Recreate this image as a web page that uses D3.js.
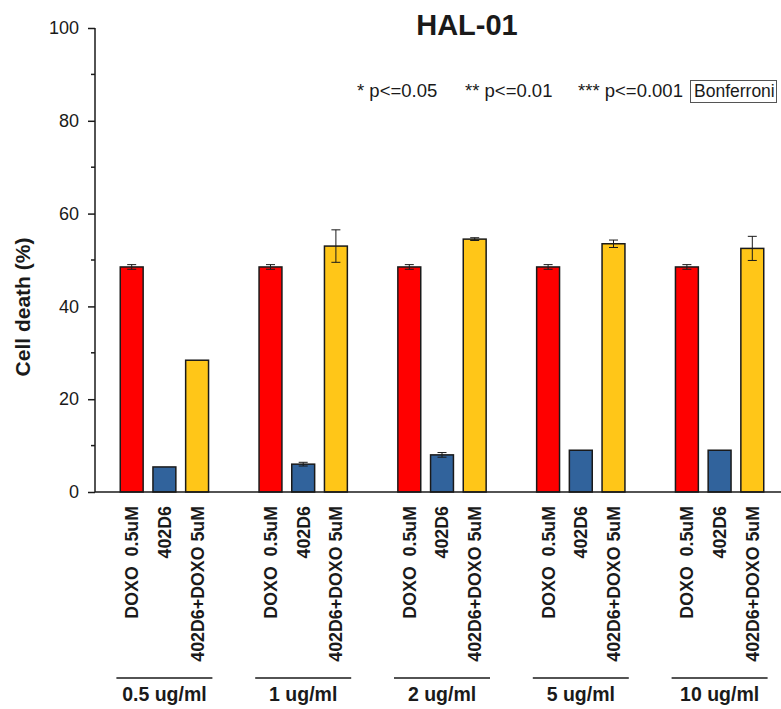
<!DOCTYPE html>
<html>
<head>
<meta charset="utf-8">
<script src="https://cdn.jsdelivr.net/npm/d3@7"></script>
<style>
  html, body { margin: 0; padding: 0; background: #fff; }
  svg { display: block; font-family: "Liberation Sans", Arial, sans-serif; }
</style>
</head>
<body>
<svg id="chart" width="781" height="709"></svg>
<script>
// Concentrations of 402D6 (one group each)
const groups = ["0.5 ug/ml", "1 ug/ml", "2 ug/ml", "5 ug/ml", "10 ug/ml"];
// Treatments within each group
const series = ["DOXO  0.5uM", "402D6", "402D6+DOXO 5uM"];
const seriesColors = ["#FF0000", "#31639C", "#FFC618"];

// Mean cell death (%) per group, one array per treatment
const doxoMean   = [48.5, 48.5, 48.5, 48.5, 48.5];
const ab402Mean  = [5.4, 6.0, 8.0, 9.0, 9.0];
const comboMean  = [28.4, 53.0, 54.5, 53.5, 52.5];
// Error (± SD)
const doxoErr    = [0.5, 0.5, 0.5, 0.5, 0.5];
const ab402Err   = [0, 0.4, 0.5, 0, 0];
const comboErr   = [0, 3.5, 0.3, 0.8, 2.6];

const yMajorTicks = [0, 20, 40, 60, 80, 100];
const yMinorTicks = [10, 30, 50, 70, 90];
const sigLegend = ["* p<=0.05", "** p<=0.01", "*** p<=0.001"];

const means = [doxoMean, ab402Mean, comboMean];
const errs = [doxoErr, ab402Err, comboErr];

const svg = d3.select("#chart");
const ink = "#1a1a1a";

const y = d3.scaleLinear().domain([0, 100]).range([492, 28]);
const x0 = d3.scaleBand().domain(groups).range([95, 789]).padding(0);
const x1 = d3.scaleBand().domain(series).range([-49.05, 49.05])
  .paddingInner(0.3).paddingOuter(0.15);

// Flatten into bar records
const bars = [];
groups.forEach((g, gi) => {
  series.forEach((s, si) => {
    bars.push({ group: g, series: s, si, value: means[si][gi], err: errs[si][gi] });
  });
});
const cx = d => x0(d.group) + x0.bandwidth() / 2 + x1(d.series) + x1.bandwidth() / 2;

// Bars
svg.append("g").selectAll("rect").data(bars).join("rect")
  .attr("x", d => x0(d.group) + x0.bandwidth() / 2 + x1(d.series))
  .attr("y", d => y(d.value))
  .attr("width", x1.bandwidth())
  .attr("height", d => y(0) - y(d.value))
  .attr("fill", d => seriesColors[d.si])
  .attr("stroke", ink)
  .attr("stroke-width", 1.5);

// Error bars
const eb = svg.append("g").attr("stroke", ink).attr("stroke-width", 1)
  .selectAll("g").data(bars.filter(d => d.err > 0)).join("g");
eb.append("line")
  .attr("x1", cx).attr("x2", cx)
  .attr("y1", d => y(d.value + d.err)).attr("y2", d => y(d.value - d.err));
eb.append("line")
  .attr("x1", d => cx(d) - 4.5).attr("x2", d => cx(d) + 4.5)
  .attr("y1", d => y(d.value + d.err)).attr("y2", d => y(d.value + d.err));
eb.append("line")
  .attr("x1", d => cx(d) - 4.5).attr("x2", d => cx(d) + 4.5)
  .attr("y1", d => y(d.value - d.err)).attr("y2", d => y(d.value - d.err));

// Y axis: major ticks with labels, minor ticks without
const yAxis = svg.append("g").attr("transform", "translate(95,0)")
  .call(d3.axisLeft(y).tickValues(yMajorTicks).tickSize(7).tickPadding(9)
    .tickFormat(d3.format("d")));
yAxis.selectAll("text").attr("font-size", 18).attr("fill", ink)
  .attr("font-family", "Liberation Sans, Arial, sans-serif");
yAxis.selectAll("line, path").attr("stroke", ink).attr("stroke-width", 1.5);
yAxis.select("path").attr("d", `M0,${y(100)}V${y(0)}`);
svg.append("g").attr("transform", "translate(95,0)")
  .selectAll("line").data(yMinorTicks).join("line")
  .attr("x1", -4).attr("x2", 0)
  .attr("y1", d => y(d)).attr("y2", d => y(d))
  .attr("stroke", ink).attr("stroke-width", 1.5);

// X axis baseline
svg.append("line")
  .attr("x1", 95).attr("x2", 781)
  .attr("y1", y(0)).attr("y2", y(0))
  .attr("stroke", ink).attr("stroke-width", 1.5);

// Rotated treatment labels under each bar
svg.append("g").selectAll("text").data(bars).join("text")
  .attr("transform", d => `translate(${cx(d)},506) rotate(-90)`)
  .attr("dy", "0.36em")
  .attr("text-anchor", "end")
  .attr("font-size", 17.8)
  .attr("font-weight", "bold")
  .attr("fill", ink)
  .style("white-space", "pre")
  .text(d => d.series);

// Group brackets and labels
const gl = svg.append("g").selectAll("g").data(groups).join("g")
  .attr("transform", g => `translate(${x0(g) + x0.bandwidth() / 2},0)`);
gl.append("line")
  .attr("x1", -48).attr("x2", 48).attr("y1", 678).attr("y2", 678)
  .attr("stroke", ink).attr("stroke-width", 1.5);
gl.append("text")
  .attr("y", 701).attr("text-anchor", "middle")
  .attr("font-size", 19.5).attr("font-weight", "bold").attr("fill", ink)
  .text(g => g);

// Y axis title
svg.append("text")
  .attr("transform", "translate(30,307) rotate(-90)")
  .attr("text-anchor", "middle")
  .attr("font-size", 21).attr("font-weight", "bold").attr("fill", ink)
  .text("Cell death (%)");

// Chart title
svg.append("text")
  .attr("x", 467).attr("y", 35).attr("text-anchor", "middle")
  .attr("font-size", 29).attr("font-weight", "bold").attr("fill", ink)
  .text("HAL-01");

// Significance legend
const sigX = [357, 465, 578];
svg.append("g").selectAll("text").data(sigLegend).join("text")
  .attr("x", (d, i) => sigX[i]).attr("y", 97)
  .attr("font-size", 18.5).attr("fill", ink)
  .text(d => d);
svg.append("rect")
  .attr("x", 690.5).attr("y", 80.5).attr("width", 86).attr("height", 22)
  .attr("fill", "#fff").attr("stroke", "#555").attr("stroke-width", 1);
svg.append("text")
  .attr("x", 694).attr("y", 97)
  .attr("font-size", 17.5).attr("fill", ink)
  .text("Bonferroni");
</script>
</body>
</html>
